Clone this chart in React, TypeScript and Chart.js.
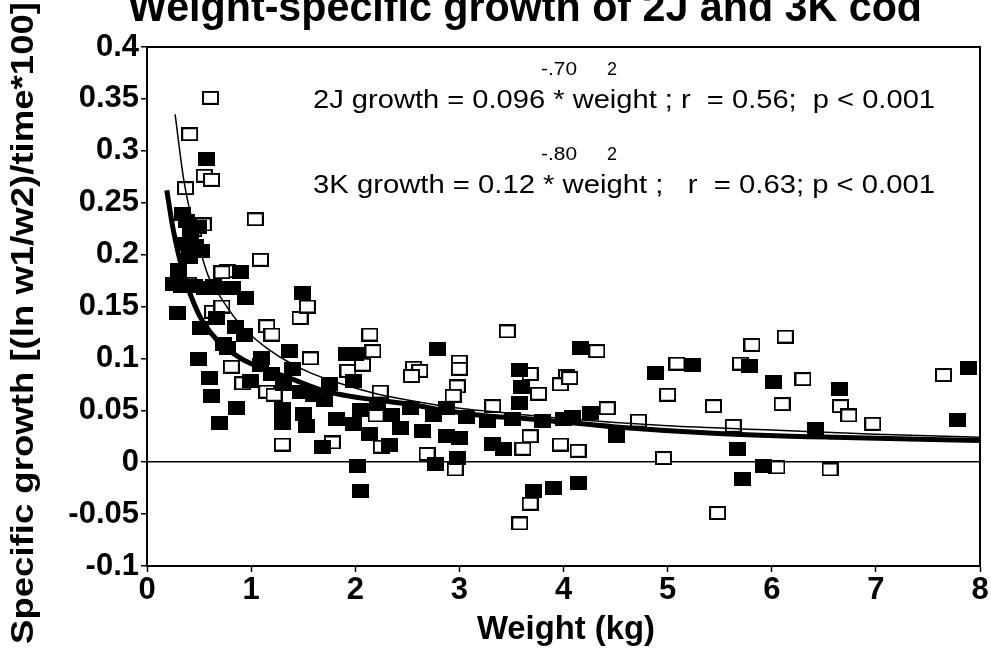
import React, { useEffect, useRef } from "react";
import { Chart, registerables } from "chart.js";

Chart.register(...registerables);

// ---- data ----
const open2J_weight = [
  0.61, 0.41, 0.37, 0.55, 0.62, 0.54, 0.45, 1.04, 1.09, 0.77, 0.72, 0.40, 0.63, 0.72, 1.15, 1.20, 1.47, 1.54, 1.57,
  0.81, 0.92, 1.15, 1.22, 1.30, 1.78, 2.14, 2.17, 1.93, 2.07, 2.24, 2.56, 2.62, 2.54, 3.00, 3.00, 2.98, 2.94, 3.46,
  3.32, 3.68, 3.76, 3.68, 3.61, 3.58, 3.68, 2.96, 2.69, 2.25, 2.20, 4.03, 3.97, 4.06, 4.32, 4.42, 4.72, 3.97, 4.14,
  4.96, 5.09, 5.00, 5.44, 5.63, 5.48, 6.05, 5.70, 5.81, 6.13, 6.30, 6.10, 6.56, 6.66, 6.74, 6.97, 7.65,
];
const open2J_growth = [
  0.351, 0.316, 0.264, 0.276, 0.272, 0.229, 0.224, 0.234, 0.195, 0.184, 0.183, 0.172, 0.145, 0.150, 0.131, 0.123,
  0.139, 0.150, 0.100, 0.092, 0.076, 0.068, 0.065, 0.017, 0.019, 0.123, 0.107, 0.088, 0.094, 0.068, 0.091, 0.088,
  0.083, 0.097, 0.090, 0.073, 0.064, 0.126, 0.054, 0.085, 0.066, 0.025, 0.013, -0.059, -0.040, -0.007, 0.008, 0.015,
  0.045, 0.083, 0.075, 0.081, 0.107, 0.052, 0.040, 0.017, 0.011, 0.004, 0.095, 0.065, 0.054, 0.035, -0.049, -0.005,
  0.095, 0.113, 0.121, 0.080, 0.056, -0.007, 0.054, 0.045, 0.037, 0.084,
];

const filled3K_weight = [
  0.57, 0.34, 0.38, 0.49, 0.42, 0.36, 0.47, 0.52, 0.41, 0.30, 0.25, 0.33, 0.46, 0.55, 0.64, 0.72, 0.82, 0.90, 0.95,
  0.29, 0.51, 0.67, 0.85, 0.94, 0.73, 0.77, 0.49, 0.60, 0.62, 0.86, 0.70, 1.49, 1.37, 1.10, 1.09, 0.99, 1.20, 1.31,
  1.30, 1.30, 1.50, 1.53, 1.40, 1.47, 1.60, 1.70, 1.75, 1.92, 2.00, 1.98, 1.82, 1.98, 1.69, 2.14, 2.33, 2.05, 2.21,
  2.35, 2.43, 2.53, 2.65, 2.75, 2.88, 2.88, 3.00, 3.07, 3.27, 2.79, 3.58, 3.60, 3.58, 2.98, 2.77, 2.02, 2.05, 3.71,
  3.90, 4.14, 3.32, 3.42, 3.51, 3.80, 4.00, 4.09, 4.16, 4.26, 4.51, 4.88, 5.24, 5.67, 5.72, 5.92, 5.79, 6.02, 6.42,
  6.65, 7.89, 7.78,
];
const filled3K_growth = [
  0.292, 0.239, 0.232, 0.227, 0.220, 0.210, 0.208, 0.203, 0.198, 0.185, 0.172, 0.170, 0.170, 0.168, 0.170, 0.168,
  0.168, 0.183, 0.158, 0.144, 0.129, 0.139, 0.130, 0.123, 0.114, 0.110, 0.099, 0.081, 0.064, 0.052, 0.038, 0.163,
  0.107, 0.100, 0.094, 0.078, 0.085, 0.075, 0.051, 0.038, 0.046, 0.035, 0.090, 0.068, 0.065, 0.060, 0.075, 0.104,
  0.104, 0.078, 0.042, 0.037, 0.015, 0.027, 0.017, 0.050, 0.056, 0.045, 0.033, 0.052, 0.030, 0.045, 0.052, 0.025,
  0.023, 0.044, 0.040, 0.109, 0.089, 0.072, 0.057, 0.004, -0.002, -0.004, -0.028, -0.028, -0.025, -0.020, 0.018,
  0.013, 0.042, 0.040, 0.042, 0.044, 0.110, 0.047, 0.025, 0.086, 0.094, 0.013, -0.016, -0.004, 0.093, 0.077, 0.032,
  0.071, 0.091, 0.041,
];

const fit2J_weight = [0.27, 0.35, 0.41, 0.5, 0.59, 0.7, 0.89, 1.0, 1.15, 1.35, 1.57, 1.85, 2.2, 2.5, 3, 3.5, 4, 5, 6, 7, 8];
const fit2J_growth = [
  0.335, 0.274, 0.243, 0.208, 0.179, 0.16, 0.133, 0.122, 0.11, 0.097, 0.086, 0.076, 0.066, 0.06, 0.052, 0.047, 0.042,
  0.035, 0.031, 0.027, 0.024,
];
const fit3K_weight = [0.19, 0.25, 0.35, 0.5, 0.67, 0.9, 1.0, 1.37, 1.73, 2.5, 3.13, 3.75, 4.5, 5.44, 6.6, 8];
const fit3K_growth = [
  0.262, 0.225, 0.182, 0.142, 0.118, 0.1, 0.095, 0.081, 0.068, 0.056, 0.046, 0.041, 0.034, 0.028, 0.024, 0.021,
];

const yTickValues = [-0.1, -0.05, 0, 0.05, 0.1, 0.15, 0.2, 0.25, 0.3, 0.35, 0.4];
const yTickLabels = ["-0.1", "-0.05", "0", "0.05", "0.1", "0.15", "0.2", "0.25", "0.3", "0.35", "0.4"];

const titleText = "Weight-specific growth of 2J and 3K cod";
const yTitleText = "Specific growth [(ln w1/w2)/time*100]";
const xTitleText = "Weight (kg)";
const eq2J = "2J growth = 0.096 * weight ; r  = 0.56;  p < 0.001";
const eq2J_exp = "-.70";
const eq3K = "3K growth = 0.12 * weight ;   r  = 0.63; p < 0.001";
const eq3K_exp = "-.80";
const rSquaredExp = "2";

const FONT = "'Liberation Sans', Arial, Helvetica, sans-serif";

function toPoints(xs: number[], ys: number[]) {
  return xs.map((x, i) => ({ x, y: ys[i] }));
}

function makeSquare(filled: boolean) {
  const c = document.createElement("canvas");
  c.width = 17;
  c.height = 14;
  const g = c.getContext("2d")!;
  if (filled) {
    g.fillStyle = "#000";
    g.fillRect(0, 0, 17, 14);
  } else {
    g.fillStyle = "#fff";
    g.fillRect(0, 0, 17, 14);
    g.strokeStyle = "#000";
    g.lineWidth = 2;
    g.strokeRect(1, 1, 15, 12);
  }
  return c;
}

function fitText(
  ctx: CanvasRenderingContext2D,
  text: string,
  x: number,
  y: number,
  width: number,
  font: string,
  align: CanvasTextAlign,
  rotate = 0
) {
  ctx.save();
  ctx.font = font;
  const m = ctx.measureText(text).width;
  const sx = width / m;
  ctx.translate(x, y);
  if (rotate) ctx.rotate(rotate);
  ctx.scale(sx, 1);
  ctx.textAlign = align;
  ctx.textBaseline = "alphabetic";
  ctx.fillStyle = "#000";
  ctx.fillText(text, 0, 0);
  ctx.restore();
}

const decorPlugin = {
  id: "decor",
  afterDraw(chart: any) {
    const ctx: CanvasRenderingContext2D = chart.ctx;
    const a = chart.chartArea;
    ctx.save();
    ctx.strokeStyle = "#000";
    ctx.lineWidth = 2;
    ctx.beginPath();
    ctx.moveTo(a.left, a.top);
    ctx.lineTo(a.right, a.top);
    ctx.lineTo(a.right, a.bottom);
    ctx.stroke();
    ctx.restore();

    fitText(ctx, titleText, 525, 21, 794, `bold 42px ${FONT}`, "center");
    fitText(ctx, yTitleText, 33, 323, 642, `bold 31px ${FONT}`, "center", -Math.PI / 2);
    fitText(ctx, xTitleText, 566, 639, 178, `bold 34px ${FONT}`, "center");

    fitText(ctx, eq2J, 313, 108, 622, `26px ${FONT}`, "left");
    fitText(ctx, eq2J_exp, 541, 75, 36, `19px ${FONT}`, "left");
    fitText(ctx, rSquaredExp, 607, 75, 10, `19px ${FONT}`, "left");
    fitText(ctx, eq3K, 313, 193, 622, `26px ${FONT}`, "left");
    fitText(ctx, eq3K_exp, 541, 160, 36, `19px ${FONT}`, "left");
    fitText(ctx, rSquaredExp, 607, 160, 10, `19px ${FONT}`, "left");
  },
};

export default function App() {
  const ref = useRef<HTMLCanvasElement | null>(null);

  useEffect(() => {
    document.body.style.margin = "0";
    const canvas = ref.current!;
    const openImg = makeSquare(false);
    const filledImg = makeSquare(true);

    const chart = new Chart(canvas, {
      type: "scatter",
      data: {
        datasets: [
          {
            label: "2J fit",
            data: toPoints(fit2J_weight, fit2J_growth),
            showLine: true,
            borderColor: "#000",
            borderWidth: 1.5,
            pointRadius: 0,
            cubicInterpolationMode: "monotone",
          } as any,
          {
            label: "3K fit",
            data: toPoints(fit3K_weight, fit3K_growth),
            showLine: true,
            borderColor: "#000",
            borderWidth: 5,
            pointRadius: 0,
            cubicInterpolationMode: "monotone",
          } as any,
          {
            label: "3K",
            data: toPoints(filled3K_weight, filled3K_growth),
            pointStyle: filledImg,
            pointRadius: 8,
          } as any,
          {
            label: "2J",
            data: toPoints(open2J_weight, open2J_growth),
            pointStyle: openImg,
            pointRadius: 8,
          } as any,
        ],
      },
      options: {
        animation: false,
        responsive: false,
        devicePixelRatio: 1,
        layout: { padding: { left: 8, top: 47, right: 11, bottom: 0 } },
        plugins: {
          legend: { display: false },
          tooltip: { enabled: false },
          title: { display: false },
        },
        scales: {
          x: {
            type: "linear",
            min: 0,
            max: 8,
            ticks: {
              stepSize: 1,
              color: "#000",
              font: { family: FONT, size: 31, weight: "bold" },
              padding: 0,
              maxRotation: 0,
            },
            grid: {
              drawOnChartArea: false,
              tickColor: "#000",
              tickLength: 6,
              tickWidth: 1.5,
            },
            border: { display: true, color: "#000", width: 2 },
            afterFit: (scale: any) => {
              scale.height = 88;
            },
          },
          y: {
            type: "linear",
            min: -0.1,
            max: 0.4,
            afterBuildTicks: (scale: any) => {
              scale.ticks = yTickValues.map((v) => ({ value: v }));
            },
            ticks: {
              color: "#000",
              font: { family: FONT, size: 31, weight: "bold" },
              padding: 2,
              callback: (_v: any, i: number) => yTickLabels[i],
            },
            grid: {
              drawOnChartArea: true,
              color: (c: any) => (c.tick && c.tick.value === 0 ? "#000" : "rgba(0,0,0,0)"),
              lineWidth: 1.5,
              tickColor: "#000",
              tickLength: 6,
              tickWidth: 1.5,
            },
            border: { display: true, color: "#000", width: 2 },
            afterFit: (scale: any) => {
              scale.width = 139;
            },
          },
        },
      } as any,
      plugins: [decorPlugin],
    });
    return () => chart.destroy();
  }, []);

  return (
    <div style={{ width: 991, height: 654, background: "#fff" }}>
      <canvas ref={ref} width={991} height={654} style={{ display: "block" }} />
    </div>
  );
}
